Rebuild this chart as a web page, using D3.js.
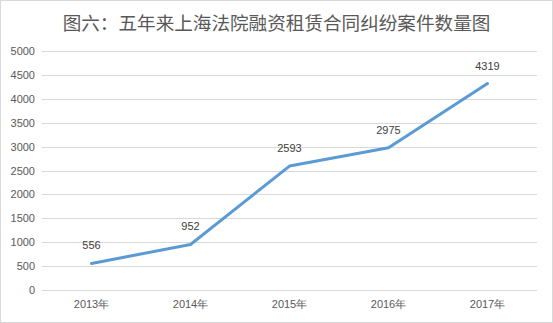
<!DOCTYPE html>
<html>
<head>
<meta charset="utf-8">
<script src="https://cdn.jsdelivr.net/npm/d3@7"></script>
<style>
    body { margin: 0; background: #fff; }
    svg { display: block; }
</style>
</head>
<body>
<div id="chart"></div>
<script>
// data
var years = ["2013年", "2014年", "2015年", "2016年", "2017年"];
var cases = [556, 952, 2593, 2975, 4319];
var yTicks = [0, 500, 1000, 1500, 2000, 2500, 3000, 3500, 4000, 4500, 5000];
var title = "图六：五年来上海法院融资租赁合同纠纷案件数量图";

var width = 553, height = 323;
var margin = { top: 51, right: 16, bottom: 33, left: 42 };

var svg = d3.select("#chart")
    .append("svg")
    .attr("width", width)
    .attr("height", height)
    .style("font-family", "'Noto Sans CJK SC', 'Liberation Sans', sans-serif");

// chart border
svg.append("rect")
    .attr("x", 0.5)
    .attr("y", 0.5)
    .attr("width", width - 1)
    .attr("height", height - 1)
    .attr("fill", "#fff")
    .attr("stroke", "#d9d9d9");

var x = d3.scaleBand()
    .domain(years)
    .range([margin.left, width - margin.right]);

var y = d3.scaleLinear()
    .domain([0, 5000])
    .range([height - margin.bottom, margin.top]);

svg.append("text")
    .attr("x", width / 2)
    .attr("y", 30)
    .attr("text-anchor", "middle")
    .attr("font-size", "18.6px")
    .attr("fill", "#595959")
    .text(title);

// gridlines
svg.append("g")
    .selectAll("line")
    .data(yTicks)
    .enter()
    .append("line")
    .attr("x1", margin.left)
    .attr("x2", width - margin.right)
    .attr("y1", function (d) { return Math.round(y(d)) + 0.5; })
    .attr("y2", function (d) { return Math.round(y(d)) + 0.5; })
    .attr("stroke", "#d9d9d9")
    .attr("stroke-width", 1);

var yAxis = svg.append("g")
    .attr("transform", "translate(" + (margin.left - 7) + ",0)")
    .call(d3.axisLeft(y).tickValues(yTicks).tickSize(0).tickPadding(0).tickFormat(d3.format("d")));
yAxis.select(".domain").remove();
yAxis.selectAll("text")
    .attr("font-size", "11px")
    .attr("font-family", "'Liberation Sans', sans-serif")
    .attr("fill", "#595959");

var xAxis = svg.append("g")
    .attr("transform", "translate(0," + (height - margin.bottom) + ")")
    .call(d3.axisBottom(x).tickSize(0).tickPadding(10));
xAxis.select(".domain").remove();
xAxis.selectAll("text")
    .attr("font-size", "11px")
    .attr("fill", "#595959");

var line = d3.line()
    .x(function (d, i) { return x(years[i]) + x.bandwidth() / 2; })
    .y(function (d) { return y(d); });

svg.append("path")
    .datum(cases)
    .attr("d", line)
    .attr("fill", "none")
    .attr("stroke", "#5b9bd5")
    .attr("stroke-width", 3)
    .attr("stroke-linejoin", "round")
    .attr("stroke-linecap", "round");

svg.append("g")
    .selectAll("text")
    .data(cases)
    .enter()
    .append("text")
    .attr("x", function (d, i) { return x(years[i]) + x.bandwidth() / 2; })
    .attr("y", function (d) { return y(d) - 14; })
    .attr("text-anchor", "middle")
    .attr("font-size", "11px")
    .attr("font-family", "'Liberation Sans', sans-serif")
    .attr("fill", "#404040")
    .text(function (d) { return d; });
</script>
</body>
</html>
